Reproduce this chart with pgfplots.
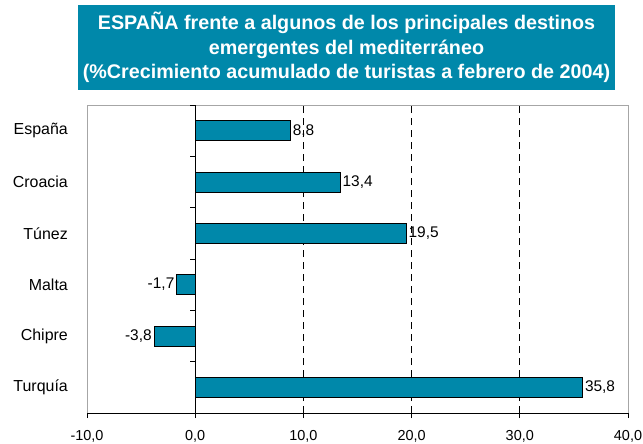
\documentclass[border=0pt]{standalone}
\usepackage{pgfplots}
\pgfplotsset{compat=1.18}
\usepackage{fontspec}
\setmainfont{Liberation Sans}
\definecolor{barc}{RGB}{0,136,170}
\begin{document}
\begin{tikzpicture}
\useasboundingbox (0bp,0bp) rectangle (643bp,-444bp);
\node[fill=barc, text=white, font=\fontsize{19.8}{24.5}\selectfont\bfseries, align=center,
      minimum width=537bp, minimum height=85bp, inner sep=0pt] at (346.5bp,-47.5bp)
  {ESPAÑA frente a algunos de los principales destinos\\ emergentes del mediterráneo\\ (\%Crecimiento acumulado de turistas a febrero de 2004)};
\begin{axis}[at={(87bp,-413bp)}, anchor=south west, scale only axis,
  width=541bp, height=308bp, xmin=-10, xmax=40, ymin=0.5, ymax=6.5,
  axis line style={draw=gray!70, line width=0.8pt},
  xtick=\empty, ytick={1,...,6},
  yticklabels={Turquía,Chipre,Malta,Túnez,Croacia,España},
  major tick length=0pt,
  yticklabel style={font=\fontsize{16}{18}\selectfont, inner sep=0pt, anchor=east, xshift=-19bp},
  /pgf/number format/assume math mode=true,
  clip=false]
\draw[black, dash pattern=on 7bp off 5bp, line width=0.7pt] (axis cs:10,0.5) -- (axis cs:10,6.5);
\draw[black, dash pattern=on 7bp off 5bp, line width=0.7pt] (axis cs:20,0.5) -- (axis cs:20,6.5);
\draw[black, dash pattern=on 7bp off 5bp, line width=0.7pt] (axis cs:30,0.5) -- (axis cs:30,6.5);
\addplot[xbar, bar width=20bp, fill=barc, draw=black, line width=0.9pt,
  nodes near coords, nodes near coords align=horizontal,
  every node near coord/.append style={font=\fontsize{15.5}{17}\selectfont, text=black, inner sep=2bp},
  /pgf/number format/.cd, fixed, fixed zerofill, precision=1, use comma, assume math mode=true]
  coordinates {(8.8,6) (13.4,5) (19.5,4) (-1.7,3) (-3.8,2) (35.8,1)};
\end{axis}
\begin{axis}[at={(87bp,-413bp)}, anchor=south west, scale only axis,
  width=541bp, height=308bp, xmin=-10, xmax=40, ymin=0.5, ymax=6.5,
  axis x line=bottom, axis y line=center,
  axis line style={-, black, line width=0.8pt},
  xtick={-10,0,10,20,30,40},
  ytick={0.5,1.5,...,6.5}, yticklabels={},
  tick style={black, line width=0.8pt},
  major tick length=5bp,
  tick align=outside,
  xticklabel style={font=\fontsize{14.5}{16}\selectfont, yshift=-9bp, /pgf/number format/.cd, fixed, fixed zerofill, precision=1, use comma, assume math mode=true},
  xticklabel={\pgfmathprintnumber{\tick}},
  clip=false]
\end{axis}
\end{tikzpicture}
\end{document}
